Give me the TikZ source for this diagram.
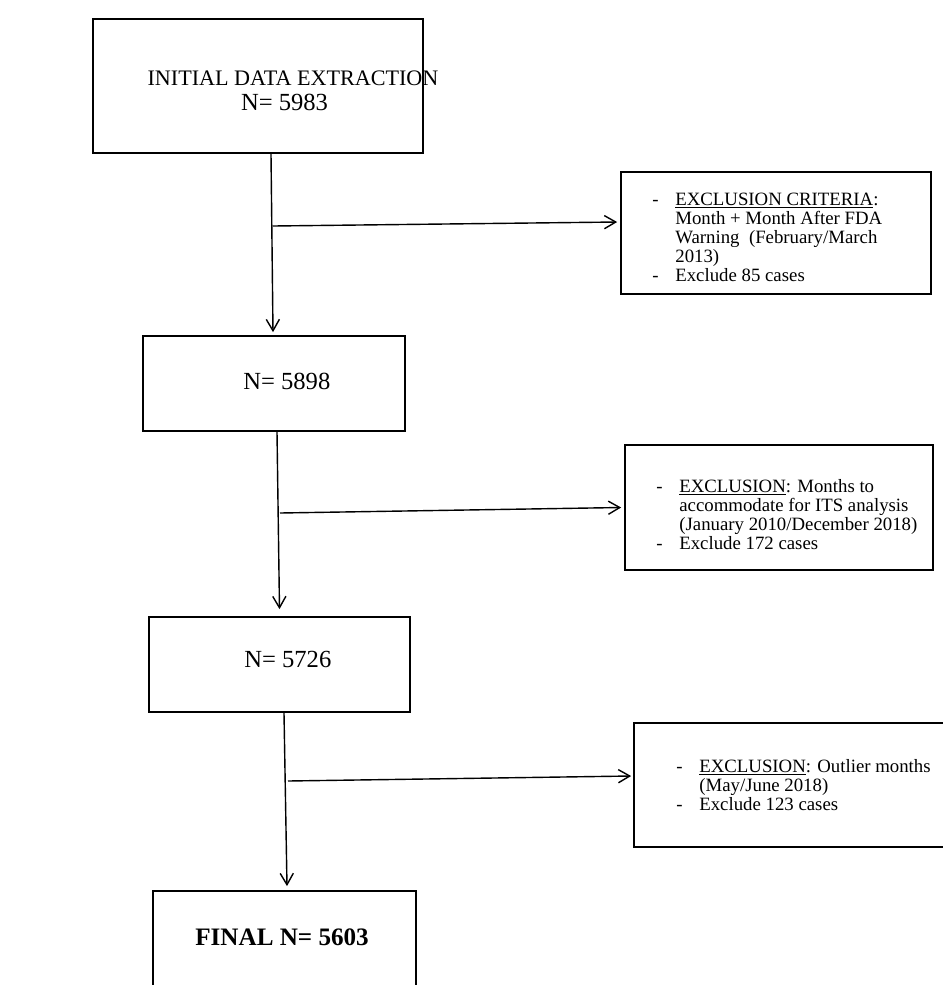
\documentclass[tikz,border=0pt]{standalone}
\usepackage{fontspec}
\setmainfont{Liberation Serif}
\usetikzlibrary{arrows.meta}
\tikzset{
  stagebox/.style = {shape=rectangle, draw, line width=1pt, inner sep=0pt},
  critbox/.style  = {stagebox},
  stagetext/.style= {inner sep=0pt, align=center, font=\fontsize{14}{14.2}\selectfont},
  crittext/.style = {inner sep=0pt, anchor=base west, font=\fontsize{10.7}{10.9}\selectfont},
  flow/.style     = {draw, line width=0.8pt, -{Straight Barb[length=6.5pt,width=7.5pt]}}
}
\newcommand{\critlist}[1]{\begin{tabular}[t]{@{}p{0.46cm}@{}l@{}}#1\end{tabular}}

\begin{document}
\begin{tikzpicture}[x=0.02cm, y=-0.02cm]
  \path[fill=white, use as bounding box] (0,0) rectangle (943,985);

  % main stages
  \node [stagebox, minimum width=6.6cm,  minimum height=2.68cm] (init)  at (258,86)    {};
  \node [stagebox, minimum width=5.24cm, minimum height=1.9cm]  (n2)    at (274,383.5) {};
  \node [stagebox, minimum width=5.22cm, minimum height=1.9cm]  (n3)    at (279.5,664.5) {};
  \node [stagebox, minimum width=5.26cm, minimum height=1.98cm] (final) at (284.5,940.5) {};

  \node [stagetext] (initlabel) at (293,91)
    {{\fontsize{12.6}{14.2}\selectfont INITIAL DATA EXTRACTION}\\N= 5983\hspace*{0.34cm}};
  \node [stagetext, anchor=base west] (n2label) at (243,389) {N= 5898};
  \node [stagetext, anchor=base west] (n3label) at (244,667) {N= 5726};
  \node [stagetext, anchor=base west, font=\fontsize{14.3}{16}\selectfont\bfseries]
    (finallabel) at (195,945) {FINAL N= 5603};

  % exclusion boxes
  \node [critbox, minimum width=6.2cm,  minimum height=2.44cm] (crit1) at (776,233)   {};
  \node [critbox, minimum width=6.16cm, minimum height=2.5cm]  (crit2) at (779,507.5) {};
  \node [critbox, minimum width=6.52cm, minimum height=2.48cm] (crit3) at (797,785)   {};

  \node [crittext] (crit1text) at (652,205) {\critlist{
    - & \underline{EXCLUSION CRITERIA}: \\
      & Month + Month After FDA \\
      & Warning\ \ (February/March \\
      & 2013) \\
    - & Exclude 85 cases}};
  \node [crittext] (crit2text) at (656,492) {\critlist{
    - & \underline{EXCLUSION}: Months to \\
      & accommodate for ITS analysis \\
      & (January 2010/December 2018) \\
    - & Exclude 172 cases}};
  \node [crittext] (crit3text) at (676,772) {\critlist{
    - & \underline{EXCLUSION}: Outlier months \\
      & (May/June 2018) \\
    - & Exclude 123 cases}};

  % connectors
  \draw [flow] ([xshift=0.26cm]init.south) -- ([xshift=-0.02cm, yshift=0.06cm]n2.north);
  \draw [flow] ([xshift=0.06cm]n2.south)   -- ([yshift=0.14cm]n3.north);
  \draw [flow] ([xshift=0.09cm]n3.south)   -- ([xshift=0.05cm, yshift=0.08cm]final.north);

  \coordinate (j1) at (273,226);
  \coordinate (j2) at (280,513);
  \coordinate (j3) at (288,781);
  \draw [flow] (j1) -- ([xshift=-0.06cm, yshift=0.22cm]crit1.west);
  \draw [flow] (j2) -- ([xshift=-0.06cm]crit2.west);
  \draw [flow] (j3) -- ([xshift=-0.04cm, yshift=0.18cm]crit3.west);
\end{tikzpicture}
\end{document}
